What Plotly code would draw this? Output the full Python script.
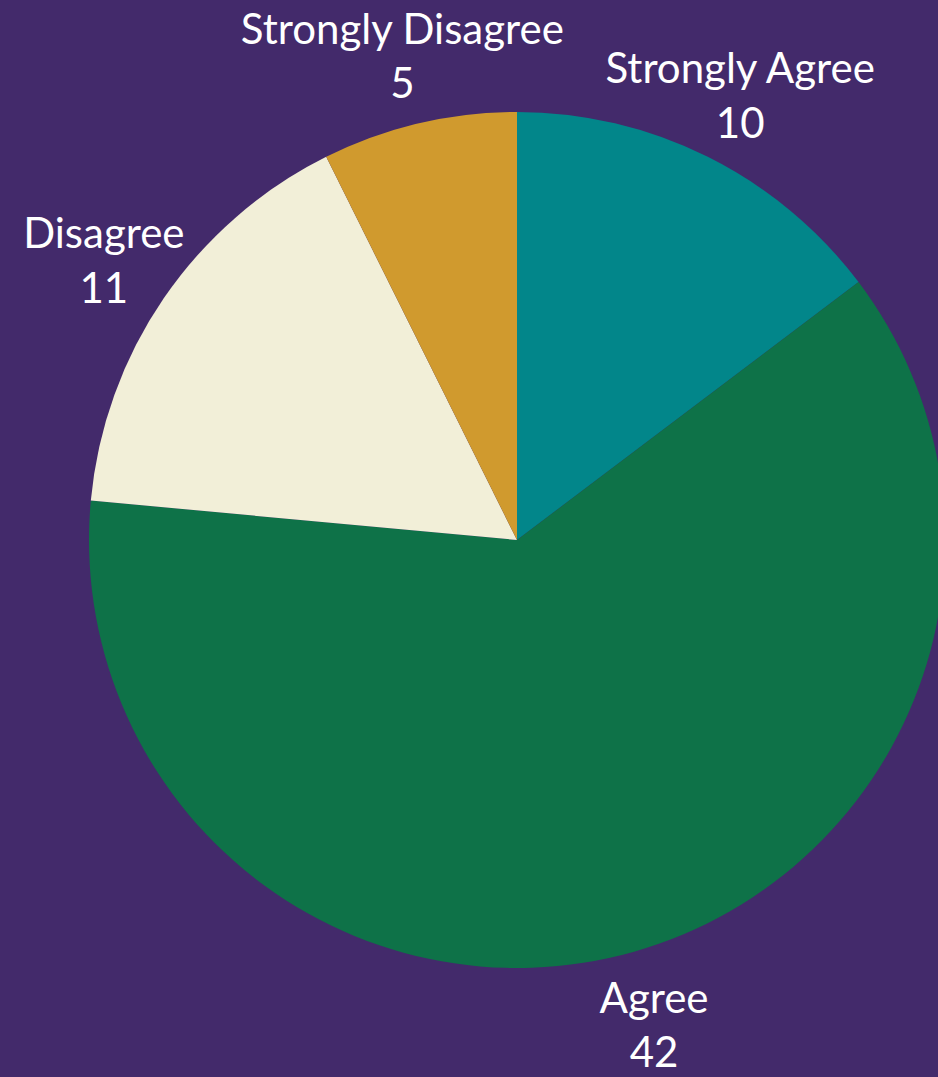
import plotly.graph_objects as go

categories = ["Strongly Agree", "Agree", "Disagree", "Strongly Disagree"]
values = [10, 42, 11, 5]
colors = ["#02868A", "#0E7248", "#F2EFD8", "#D09A2E"]

BG = "#432A6B"
FONT = "Lato"

# layout geometry (pixels)
W, H = 1040, 1077
CX, CY, R = 517, 540, 428
dom_x = [(CX - R) / W, (CX + R) / W]
dom_y = [1 - (CY + R) / H, 1 - (CY - R) / H]

# polar overlay for labels: radial range larger than pie radius
RMAX = 1.2
PR = R * RMAX
LCY = CY + 8  # small vertical offset for the label ring
pdom_x = [(CX - PR) / W, (CX + PR) / W]
pdom_y = [1 - (LCY + PR) / H, 1 - (LCY - PR) / H]

# label angles derived from the data (clockwise from 12 o'clock)
total = sum(values)
cum = 0
mid_theta = []
for v in values:
    mid_theta.append(360.0 * (cum + v / 2) / total)
    cum += v
label_text = [f"{c}<br>{v}" for c, v in zip(categories, values)]

fig = go.Figure()
fig.add_trace(go.Pie(
    labels=categories,
    values=values,
    sort=False,
    direction="clockwise",
    rotation=0,
    marker=dict(colors=colors, line=dict(width=0)),
    textinfo="none",
    showlegend=False,
    domain=dict(x=dom_x, y=dom_y),
    hoverinfo="label+value",
))

label_r = 1.17
fig.add_trace(go.Scatterpolar(
    r=[label_r] * len(values),
    theta=mid_theta,
    mode="text",
    text=label_text,
    textposition="middle center",
    textfont=dict(family=FONT, size=42, color="white"),
    cliponaxis=False,
    showlegend=False,
    hoverinfo="skip",
))

fig.update_layout(
    width=W,
    height=H,
    margin=dict(l=0, r=0, t=0, b=0),
    paper_bgcolor=BG,
    plot_bgcolor=BG,
    font=dict(family=FONT, color="white", size=42),
    polar=dict(
        domain=dict(x=pdom_x, y=pdom_y),
        bgcolor="rgba(0,0,0,0)",
        radialaxis=dict(visible=False, range=[0, RMAX]),
        angularaxis=dict(visible=False, rotation=90, direction="clockwise"),
    ),
)

fig.write_html(
    "out.html",
    config={"displayModeBar": False},
    post_script="document.body.style.margin='0';document.body.style.overflow='hidden';document.body.style.background='%s';" % BG,
)
